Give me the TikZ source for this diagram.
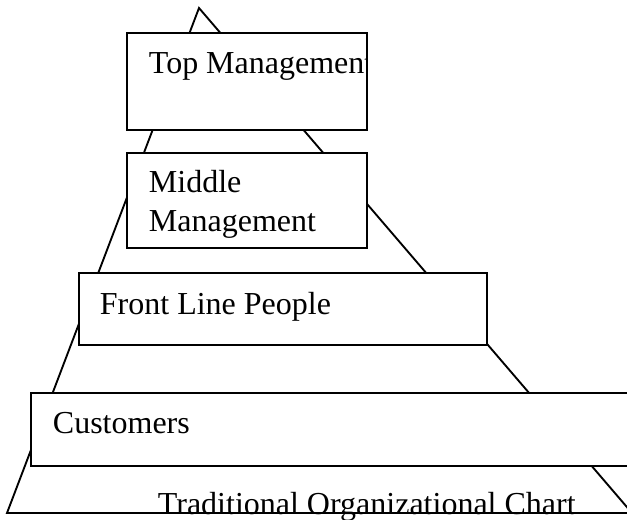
\documentclass[tikz,border=0pt]{standalone}
\usepackage{fontspec}
\setmainfont{Liberation Serif}
\usetikzlibrary{fit}
\begin{document}
\begin{tikzpicture}[x=0.75pt,y=-0.75pt,
  line width=1.4pt,
  boxnode/.style={draw=black,fill=white,inner sep=0pt,line width=1.4pt},
  lbl/.style={inner sep=0pt,anchor=base west,font=\fontsize{24}{28.5}\selectfont,text=black}]
\useasboundingbox (0,0) rectangle (627,520);
\clip (0,0) rectangle (627,520);
% pyramid
\coordinate (apex) at (199,8);
\coordinate (bl) at (7,513);
\coordinate (br) at (632,513);
\draw (apex) -- (bl) -- (br) -- cycle;
% boxes
\node[boxnode,fit={(127,33) (367,130)}] (top) {};
\node[boxnode,fit={(127,153) (367,248)}] (mid) {};
\node[boxnode,fit={(79,273) (487,345)}] (front) {};
\node[boxnode,fit={(31,393) (660,466)}] (cust) {};
% labels
\begin{scope}
  \clip (top.south west) rectangle (top.north east);
  \node[lbl] (toptxt) at (148,74) {Top Management};
\end{scope}
\node[lbl] (midtxt) at (148,193) {\vtop{\hbox{Middle}\hbox{Management}}};
\node[lbl] (fronttxt) at (99,314) {Front Line People};
\node[lbl] (custtxt) at (52,433) {Customers};
\node[lbl] (title) at (157,514) {Traditional Organizational Chart};
\end{tikzpicture}
\end{document}
